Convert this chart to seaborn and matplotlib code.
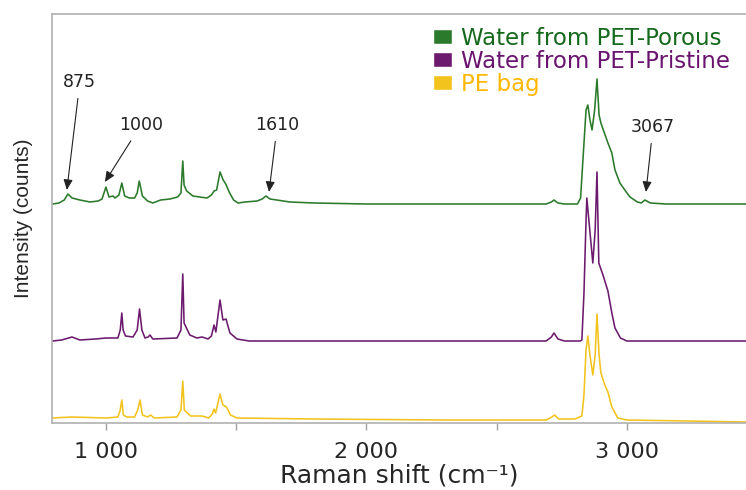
import numpy as np
import pandas as pd
import seaborn as sns
import matplotlib.pyplot as plt
from matplotlib.patches import Patch
from matplotlib.ticker import FuncFormatter, MultipleLocator

series_names = ["Water from PET-Porous", "Water from PET-Pristine", "PE bag"]
line_colors = ["#2b7a2b", "#6c1a6e", "#f2c31c"]
text_colors = ["#14691c", "#6a1470", "#ffb700"]

# spectra (already stacked with offsets)
porous_shift = [795, 820, 840, 854, 870, 900, 939, 970, 985, 1000,
                1012, 1027, 1035, 1050, 1061, 1072, 1090, 1110, 1120, 1128,
                1140, 1160, 1180, 1210, 1246, 1275, 1288, 1295, 1300, 1310,
                1334, 1360, 1388, 1405, 1415, 1425, 1438, 1450, 1460, 1475,
                1490, 1507, 1534, 1580, 1600, 1614, 1630, 1656, 1706, 1800,
                2000, 2300, 2600, 2690, 2710, 2720, 2735, 2760, 2810, 2822,
                2831, 2843, 2850, 2858, 2866, 2876, 2885, 2893, 2900, 2927,
                2942, 2954, 2973, 3000, 3012, 3040, 3055, 3069, 3090, 3150,
                3457]
porous_counts = [219, 220, 223, 229, 225, 223, 221, 222, 224, 236,
                 226, 227, 225, 228, 240, 227, 225, 225, 230, 242,
                 227, 222, 220, 223, 224, 226, 230, 262, 238, 232,
                 227, 226, 225, 228, 232, 233, 251, 243, 239, 230,
                 223, 220, 221, 222, 224, 227, 224, 223, 221, 220,
                 219, 219, 219, 219, 221, 223, 220, 219, 219, 225,
                 263, 313, 318, 303, 293, 313, 344, 308, 300, 280,
                 270, 253, 240, 230, 226, 221, 220, 223, 220, 219,
                 219]

pristine_shift = [795, 830, 870, 900, 960, 1000, 1046, 1055, 1061, 1066,
                  1075, 1104, 1120, 1129, 1138, 1150, 1162, 1169, 1180, 1273,
                  1288, 1295, 1300, 1322, 1349, 1369, 1392, 1405, 1415, 1422,
                  1438, 1449, 1461, 1476, 1503, 1550, 1800, 2200, 2690, 2710,
                  2720, 2735, 2760, 2820, 2827, 2835, 2843, 2846, 2852, 2869,
                  2878, 2885, 2892, 2908, 2927, 2942, 2954, 2975, 3000, 3457]
pristine_counts = [82, 83, 86, 83, 84, 85, 85, 93, 110, 93,
                   87, 86, 93, 114, 93, 85, 86, 88, 84, 85,
                   93, 149, 100, 88, 85, 86, 84, 87, 98, 91,
                   123, 103, 104, 90, 84, 82, 82, 82, 82, 86,
                   90, 84, 82, 82, 83, 130, 203, 225, 208, 160,
                   193, 251, 160, 148, 132, 110, 95, 85, 82, 82]

pe_shift = [795, 870, 1000, 1046, 1055, 1061, 1067, 1080, 1110, 1122,
            1131, 1140, 1160, 1172, 1185, 1273, 1288, 1295, 1301, 1325,
            1369, 1395, 1408, 1415, 1421, 1438, 1449, 1463, 1478, 1503,
            1800, 2300, 2690, 2712, 2722, 2738, 2800, 2827, 2835, 2843,
            2850, 2858, 2869, 2878, 2885, 2893, 2900, 2915, 2927, 2942,
            2965, 3000, 3457]
pe_counts = [5, 6, 5, 6, 13, 23, 8, 6, 6, 13,
             23, 8, 6, 8, 5, 6, 13, 42, 13, 7,
             7, 5, 9, 14, 10, 29, 18, 16, 8, 5,
             4, 3, 3, 6, 8, 4, 4, 7, 28, 73,
             87, 68, 48, 68, 109, 68, 50, 38, 31, 16,
             5, 3, 1]

peak_labels = ["875", "1000", "1610", "3067"]
peak_shift = [850, 996, 1626, 3073]

frames = []
for name, x, y in zip(series_names, [porous_shift, pristine_shift, pe_shift],
                      [porous_counts, pristine_counts, pe_counts]):
    frames.append(pd.DataFrame({"shift": x, "counts": y, "sample": name}))
df = pd.concat(frames, ignore_index=True)

sns.set_theme(style="white")
plt.rcParams['font.family'] = ['DejaVu Sans']

fig = plt.figure(figsize=(7.46, 4.90), dpi=100)
ax = fig.add_axes([52/746, 67/490, 694/746, 409/490])

sns.lineplot(data=df, x="shift", y="counts", hue="sample",
             palette=dict(zip(series_names, line_colors)),
             estimator=None, sort=False, lw=1.15, legend=False, ax=ax)

ax.set_xlim(793, 3457)
ax.set_ylim(0, 409)
ax.set_yticks([])
ax.xaxis.set_major_locator(MultipleLocator(1000))
ax.xaxis.set_minor_locator(MultipleLocator(500))
ax.xaxis.set_major_formatter(FuncFormatter(lambda v, p: f"{int(v):,}".replace(",", " ")))
ax.tick_params(axis="x", which="both", bottom=True, length=5, width=1,
               color="#a0a0a0", labelsize=16, pad=9)

for s in ["left", "bottom", "top"]:
    ax.spines[s].set_color("#b0b0b0")
    ax.spines[s].set_linewidth(1.2)
ax.spines["right"].set_visible(False)

ax.set_xlabel("Raman shift (cm\u207b\u00b9)", fontsize=18, labelpad=1)
ax.set_ylabel("Intensity (counts)", fontsize=15, family=["Liberation Sans", "DejaVu Sans"],
              labelpad=14)

# peak call-outs on the porous spectrum
text_pos = [(900, 341), (1134, 298), (1658, 298), (3100, 296)]
tip_y = [233, 241, 231, 231]
for lab, xs, (tx, ty), yy in zip(peak_labels, peak_shift, text_pos, tip_y):
    ax.annotate(lab, xy=(xs, yy), xytext=(tx, ty), ha="center", va="center",
                fontsize=12.5, color="#222222",
                arrowprops=dict(arrowstyle="-|>,head_length=0.5,head_width=0.22",
                                color="#222222", lw=0.8, shrinkA=3, shrinkB=0))

handles = [Patch(facecolor=c) for c in line_colors]
ax.legend(handles, series_names, labelcolor=text_colors, fontsize=16.5,
          loc="upper right", bbox_to_anchor=(0.995, 1.0), frameon=False,
          handlelength=0.8, handleheight=0.6, handletextpad=0.4,
          labelspacing=0.0, borderaxespad=0.15)

fig.savefig("out.png", dpi=100)
